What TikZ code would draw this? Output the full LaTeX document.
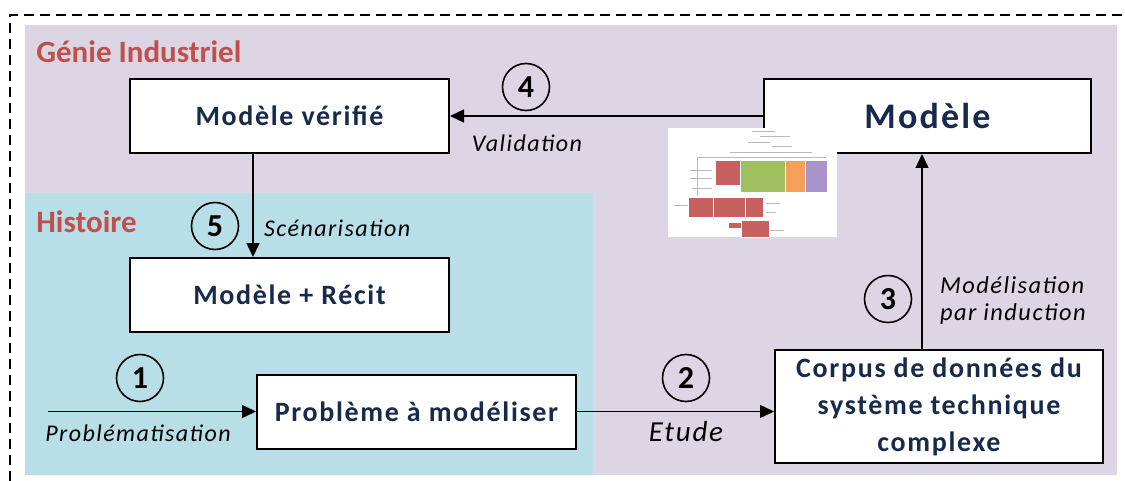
\documentclass[tikz,border=0pt]{standalone}
\usepackage{fontspec}
\setmainfont{Carlito}[LetterSpace=6]
\newfontfamily\titrefont{Carlito}
\usetikzlibrary{arrows.meta}
\definecolor{encre}{HTML}{172A4B}
\definecolor{rougeGI}{HTML}{C0504D}
\definecolor{fondGI}{HTML}{DCD6E4}
\definecolor{fondHist}{HTML}{B8DEE8}

\begin{document}
\begin{tikzpicture}[x=0.5pt, y=-0.5pt, >={Triangle[length=7pt, width=6.5pt]},
    box/.style={draw, line width=1pt, fill=white, text=encre, align=center, inner sep=2pt,
      font=\bfseries\fontsize{14}{18.5}\selectfont, minimum width=159.5pt, minimum height=37pt},
    num/.style={circle, draw, line width=0.8pt, minimum size=23.5pt, inner sep=0pt,
      font=\bfseries\fontsize{16}{16}\selectfont},
    lbl/.style={font=\itshape\fontsize{12}{14}\selectfont},
    titre/.style={anchor=base west, inner sep=0pt, text=rougeGI, font=\titrefont\bfseries\fontsize{15.5}{18}\selectfont},
    fleche/.style={->, line width=0.75pt}]
  \useasboundingbox (0,0) rectangle (1125,481);
  \fill[fondGI] (25,25) rectangle (1117,475);
  \fill[fondHist] (25,193) rectangle (593,475);
  \draw[line width=1pt, dash pattern=on 5pt off 3pt] (10,481) -- (10,15) -- (1125,15);
  \node[titre] (gi) at (36,63) {Génie Industriel};
  \node[titre] (hist) at (36,233) {Histoire};

  \node[box] (verif) at (289.5,116) {Modèle vérifié};
  \node[box, minimum width=163.5pt, font=\bfseries\fontsize{18}{22}\selectfont] (modele) at (927.5,116) {Modèle};
  \node[box] (recit) at (289.5,295) {Modèle + Récit};
  \node[box] (pb) at (416.5,411.5) {Problème à modéliser};
  \node[box, minimum width=164pt, minimum height=56.5pt] (corpus) at (939,406.5) {Corpus de données du\\système technique\\complexe};
  \coordinate (depart) at (48,411.5);

  \draw[fleche] (depart) -- (pb);
  \draw[fleche] (pb.east) -- (pb.east -| corpus.west);
  \draw[fleche] ([xshift=-8.5pt]corpus.north) -- ([xshift=-8.5pt]corpus.north |- modele.south);
  \draw[fleche] (modele) -- (verif);
  \draw[fleche] ([xshift=-18.25pt]verif.south) -- ([xshift=-18.25pt]recit.north);

  \node[num] (n1) at (140,378) {1};
  \node[num] (n2) at (686,378) {2};
  \node[num] (n3) at (888,299) {3};
  \node[num] (n4) at (526,87) {4};
  \node[num] (n5) at (215,226) {5};
  \node[lbl] (l1) at (138,433) {Problématisation};
  \node[lbl, font=\itshape\fontsize{14.5}{16}\selectfont] (l2) at (686,432) {Etude};
  \node[lbl, anchor=west, align=left, font=\itshape\fontsize{12.2}{13.5}\selectfont] (l3) at (933,300) {Modélisation\\par induction};
  \node[lbl] (l4) at (527,143) {Validation};
  \node[lbl, anchor=west] (l5) at (257,228) {Scénarisation};

  % apercu du modele
  \fill[white] (668,128) rectangle (837,237);
  \begin{scope}[gray!55, line width=0.3pt]
    \draw (752,131) -- (775,131) (760,136) -- (790,136) (748,142) -- (770,142) (772,146) -- (792,146);
    \draw (730,152) -- (812,152) (697,157) -- (826,157) (697,157) -- (697,196);
    \draw (690,170) -- (712,170) (690,178) -- (712,178) (692,188) -- (712,188);
    \draw (674,205) -- (688,205) (766,203) -- (780,203) (766,212) -- (776,212) (770,230) -- (784,230);
  \end{scope}
  \begin{scope}[draw=white, line width=0.3pt]
    \filldraw[fill=rougeGI!90] (715,160) rectangle (740,185);
    \filldraw[fill={rgb,255:red,160;green,192;blue,96}] (740,160) rectangle (785,192);
    \filldraw[fill={rgb,255:red,245;green,160;blue,90}] (785,160) rectangle (805,192);
    \filldraw[fill={rgb,255:red,168;green,148;blue,200}] (805,160) rectangle (827,192);
    \filldraw[fill=rougeGI!90] (688,197) rectangle (713,217) (713,197) rectangle (745,217) (745,197) rectangle (763,217);
    \filldraw[fill=rougeGI!90] (728,222) rectangle (741,228) (741,220) rectangle (769,237);
  \end{scope}
\end{tikzpicture}
\end{document}
